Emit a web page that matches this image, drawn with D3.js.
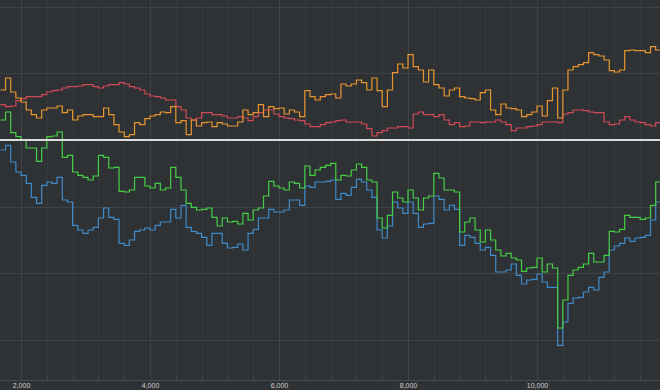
<!DOCTYPE html>
<html>
<head>
<meta charset="utf-8">
<script src="https://cdn.jsdelivr.net/npm/d3@7"></script>
<style>
  html, body { margin: 0; padding: 0; background: #2f3235; }
  svg { display: block; }
</style>
</head>
<body>
<svg id="chart"></svg>
<script>
// sample positions on the x axis (one value every 80 steps)
const steps = d3.range(1680, 11921, 80);

// series values
const orangeValues = [7.5, 9.3, 7.2, 6.3, 5.7, 4.5, 3.8, 3.3, 4.5, 4.8, 4.8, 5.1, 4.1, 4.5, 3.0, 3.6, 3.8, 3.8, 3.5, 3.5,
    4.8, 3.8, 2.3, 1.2, 0.5, 0.8, 2.6, 2.3, 3.2, 3.6, 3.8, 4.2, 4.1, 5.0, 2.6, 2.9, 0.8, 3.0, 2.1, 2.6,
    2.7, 2.0, 2.6, 2.4, 2.1, 2.1, 2.7, 4.5, 3.8, 4.1, 5.3, 3.5, 5.0, 4.7, 4.8, 3.9, 4.5, 4.2, 3.5, 7.4,
    6.5, 6.0, 6.5, 6.8, 6.9, 6.3, 8.4, 8.1, 8.4, 9.0, 8.6, 7.5, 9.3, 7.4, 5.0, 7.5, 10.1, 11.4, 10.8, 12.8,
    11.0, 10.5, 8.7, 10.5, 8.3, 7.8, 6.6, 7.5, 7.8, 6.5, 6.3, 6.2, 6.0, 7.1, 7.5, 4.5, 3.8, 5.4, 4.8, 4.7,
    4.5, 3.5, 3.8, 4.2, 5.1, 3.6, 5.9, 7.8, 3.3, 7.5, 10.5, 11.0, 11.3, 11.6, 13.1, 12.8, 12.6, 12.0, 10.4, 10.2,
    10.5, 13.4, 13.5, 13.4, 13.4, 13.1, 14.0, 13.5, 13.8];

const redValues = [5.3, 5.0, 5.1, 5.9, 6.2, 6.5, 6.5, 6.5, 6.8, 7.2, 7.4, 7.5, 7.8, 8.0, 8.0, 8.1, 8.3, 8.3, 8.0, 7.8,
    8.1, 8.3, 8.3, 8.6, 8.4, 8.0, 7.8, 7.5, 6.9, 6.6, 6.5, 6.3, 6.0, 6.0, 5.0, 4.5, 3.3, 3.0, 3.3, 4.1,
    4.1, 3.8, 3.8, 3.6, 3.3, 3.3, 3.5, 3.3, 2.9, 3.5, 4.1, 4.5, 4.5, 3.9, 3.5, 3.3, 3.2, 3.0, 2.9, 2.4,
    2.0, 2.0, 2.3, 2.6, 2.7, 2.9, 3.0, 2.7, 2.7, 2.7, 2.4, 1.7, 0.6, 1.1, 1.4, 1.8, 1.8, 2.0, 2.0, 1.8,
    3.9, 4.2, 3.8, 3.8, 3.5, 3.8, 3.0, 2.3, 2.6, 2.0, 2.1, 2.7, 2.7, 2.6, 2.7, 2.7, 3.0, 2.7, 2.3, 1.4,
    1.8, 1.8, 2.0, 2.1, 2.3, 2.7, 2.7, 2.7, 2.6, 3.9, 4.1, 4.5, 4.5, 4.4, 4.2, 4.1, 4.1, 2.7, 2.3, 2.4,
    3.0, 3.5, 3.0, 2.7, 2.6, 2.3, 2.1, 2.6, 3.3];

const greenValues = [3.0, 4.2, 1.1, 0.5, 0, -1.2, -1.2, -3.2, -1.2, 0.5, 0.6, 1.2, -2.6, -2.3, -4.8, -5.3, -5.6, -6.0, -5.4, -2.3,
    -2.6, -4.2, -4.1, -7.7, -7.8, -7.5, -5.6, -5.6, -6.9, -7.2, -6.5, -7.5, -7.2, -4.1, -5.6, -7.5, -9.5, -10.1, -10.5, -10.4,
    -10.2, -11.6, -12.9, -11.7, -12.3, -12.2, -12.6, -11.0, -12.0, -10.5, -10.2, -8.4, -6.2, -6.9, -7.2, -7.5, -6.3, -6.5, -7.2, -3.9,
    -5.3, -4.5, -4.1, -3.8, -3.5, -6.0, -5.3, -5.4, -4.5, -3.6, -4.1, -6.0, -6.3, -11.7, -13.2, -11.3, -7.8, -8.7, -9.3, -7.5,
    -8.7, -10.5, -8.7, -8.4, -5.0, -5.7, -7.5, -7.5, -7.8, -13.8, -12.3, -11.7, -13.5, -15.3, -13.5, -15.0, -16.5, -17.4, -17.0, -17.7,
    -18.0, -19.7, -19.2, -19.1, -17.7, -19.8, -18.6, -19.2, -28.2, -24.0, -20.3, -19.5, -19.1, -18.6, -17.0, -18.3, -18.3, -17.3, -13.7, -13.8,
    -13.4, -11.3, -11.6, -11.6, -11.9, -11.7, -9.8, -6.3, -5.7];

const blueValues = [-1.5, -0.8, -3.3, -4.8, -5.3, -6.5, -8.6, -9.5, -6.8, -6.3, -6.5, -5.6, -9.0, -9.3, -12.8, -13.5, -14.0, -13.5, -13.1, -11.7,
    -10.2, -11.6, -11.9, -15.5, -15.8, -15.0, -13.7, -13.5, -13.2, -13.5, -12.8, -12.3, -12.3, -10.4, -11.7, -9.8, -13.1, -13.7, -14.0, -14.6,
    -15.8, -14.0, -14.0, -15.5, -16.2, -16.1, -15.6, -16.5, -14.0, -13.4, -11.7, -11.7, -10.4, -10.8, -10.8, -10.5, -9.0, -9.0, -9.8, -6.9,
    -7.1, -6.3, -6.3, -6.2, -6.0, -8.9, -8.0, -8.3, -7.1, -5.9, -6.3, -7.5, -8.6, -13.5, -14.7, -12.9, -9.3, -10.2, -11.0, -9.3,
    -11.0, -13.1, -12.6, -12.5, -8.4, -8.9, -10.5, -9.8, -10.4, -15.8, -14.3, -14.6, -15.5, -16.5, -16.1, -17.3, -19.8, -19.8, -19.5, -18.6,
    -20.3, -21.6, -21.0, -20.9, -20.1, -21.3, -22.1, -22.1, -30.8, -27.3, -24.5, -23.7, -23.6, -22.8, -22.1, -22.5, -20.6, -19.8, -16.5, -15.9,
    -15.5, -14.7, -15.2, -14.7, -14.6, -14.3, -12.0, -9.3, -9.0];

// axis ticks
const xTickValues = [2000, 4000, 6000, 8000, 10000];
const yGridValues = [20, 10, -10, -20, -30];

document.addEventListener('DOMContentLoaded', function () {
    var width = 660;
    var height = 390;
    var plotBottom = 380;

    const svg = d3.select('#chart')
        .attr("width", width)
        .attr("height", height);

    svg.append("rect")
        .attr("width", width)
        .attr("height", height)
        .attr("fill", "#2f3235");

    const x = d3.scaleLinear()
        .domain([1674, 11907])
        .range([0, width]);

    const y = d3.scaleLinear()
        .domain([-37.5, 21])
        .range([height, 0]);

    // minor vertical grid every 400
    const minorX = d3.range(2000, 11907, 400).filter(d => d % 2000 !== 0);
    svg.append("g")
        .selectAll("line")
        .data(minorX)
        .join("line")
        .attr("x1", d => Math.round(x(d)) + 0.5)
        .attr("x2", d => Math.round(x(d)) + 0.5)
        .attr("y1", 0)
        .attr("y2", plotBottom)
        .attr("stroke", "#36393c")
        .attr("stroke-width", 1);

    // major grid
    svg.append("g")
        .selectAll("line")
        .data(xTickValues)
        .join("line")
        .attr("x1", d => Math.round(x(d)) + 0.5)
        .attr("x2", d => Math.round(x(d)) + 0.5)
        .attr("y1", 0)
        .attr("y2", plotBottom)
        .attr("stroke", "#3f4347")
        .attr("stroke-width", 1);

    svg.append("g")
        .selectAll("line")
        .data(yGridValues)
        .join("line")
        .attr("x1", 0)
        .attr("x2", width)
        .attr("y1", d => Math.round(y(d)) + 0.5)
        .attr("y2", d => Math.round(y(d)) + 0.5)
        .attr("stroke", "#3f4347")
        .attr("stroke-width", 1);

    // series
    const line = d3.line()
        .x(d => x(d.x))
        .y(d => y(d.y))
        .curve(d3.curveStepAfter);

    const series = [
        { values: redValues, color: "#d24a55" },
        { values: orangeValues, color: "#e9952f" },
        { values: blueValues, color: "#3f8bc9" },
        { values: greenValues, color: "#45cf45" }
    ];

    svg.append("clipPath").attr("id", "plot-clip")
        .append("rect")
        .attr("width", width)
        .attr("height", plotBottom);

    svg.append("g")
        .attr("clip-path", "url(#plot-clip)")
        .selectAll("path")
        .data(series)
        .join("path")
        .attr("d", s => line(s.values.map((v, i) => ({ x: steps[i], y: v }))))
        .attr("fill", "none")
        .attr("stroke", s => s.color)
        .attr("stroke-width", 1.2);

    // white zero line
    svg.append("line")
        .attr("x1", 0)
        .attr("x2", width)
        .attr("y1", y(0))
        .attr("y2", y(0))
        .attr("stroke", "#dcdcdc")
        .attr("stroke-width", 2);

    // X axis
    const xAxisGroup = svg.append("g")
        .attr("transform", `translate(0,${plotBottom})`)
        .call(d3.axisBottom(x).tickValues(xTickValues).tickFormat(d3.format(",")).tickSize(0).tickPadding(3));

    xAxisGroup.select(".domain")
        .attr("stroke", "#484c50");

    xAxisGroup.selectAll("text")
        .attr("fill", "#d0d0d0")
        .attr("font-family", "Liberation Sans, Arial, sans-serif")
        .attr("font-size", 7);

    // little minor ticks on the axis line
    xAxisGroup.selectAll(".minor")
        .data(minorX)
        .join("line")
        .attr("class", "minor")
        .attr("x1", d => Math.round(x(d)) + 0.5)
        .attr("x2", d => Math.round(x(d)) + 0.5)
        .attr("y1", -3)
        .attr("y2", 0)
        .attr("stroke", "#484c50");
});
</script>
</body>
</html>
